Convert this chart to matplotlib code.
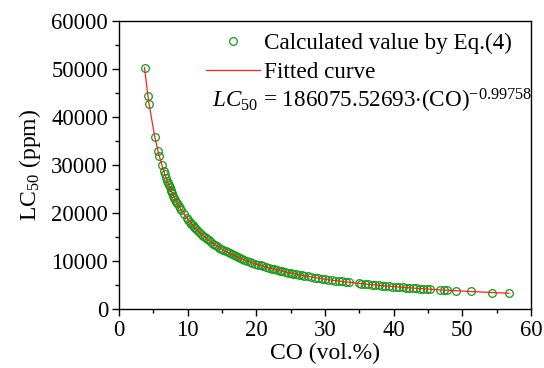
import matplotlib
matplotlib.use("Agg")
import matplotlib.pyplot as plt

plt.rcParams['font.family'] = ['Liberation Serif', 'DejaVu Serif']
plt.rcParams['mathtext.fontset'] = 'custom'
plt.rcParams['mathtext.rm'] = 'Liberation Serif'
plt.rcParams['mathtext.it'] = 'Liberation Serif:italic'

# CO (vol.%) and LC50 (ppm)
co = [3.7, 4.2, 4.35, 5.2, 5.65, 5.85, 6.2, 6.5, 6.65, 6.85, 7.0, 7.1, 7.2, 7.35,
      7.5, 7.6, 7.75, 7.9, 8.05, 8.2, 8.35, 8.5, 8.7, 8.9, 9.05, 9.4, 9.9, 10.1,
      10.3, 10.5, 10.7, 10.9, 11.1, 11.3, 11.6, 11.9, 12.2, 12.5, 12.8, 13.1, 13.4,
      13.7, 14.0, 14.3, 14.6, 14.9, 15.2, 15.5, 15.8, 16.1, 16.4, 16.7, 17.0, 17.3,
      17.6, 17.9, 18.2, 18.6, 19.0, 19.4, 19.8, 20.2, 20.6, 21.0, 21.4, 21.8, 22.2,
      22.6, 23.0, 23.4, 23.8, 24.2, 24.6, 25.0, 25.4, 25.8, 26.2, 26.6, 27.0, 27.5,
      28.0, 28.5, 29.0, 29.5, 30.0, 30.5, 31.0, 31.5, 32.0, 32.5, 33.0, 33.5, 34.9,
      35.3, 35.8, 36.3, 36.8, 37.3, 37.8, 38.3, 38.8, 39.3, 39.8, 40.3, 40.8, 41.3,
      41.8, 42.3, 42.8, 43.3, 43.8, 44.3, 44.8, 45.3, 46.8, 47.3, 47.7, 49.1, 51.2,
      54.3, 56.8]
lc50 = [50300, 44300, 42800, 35800, 33000, 31900, 30100, 28700, 28100, 27300, 26700,
        26300, 25900, 25400, 24900, 24600, 24100, 23600, 23200, 22800, 22400, 22000,
        21500, 21000, 20600, 19900, 18900, 18500, 18200, 17800, 17500, 17100, 16800,
        16500, 16100, 15700, 15300, 15000, 14600, 14300, 14000, 13650, 13350, 13100,
        12800, 12550, 12300, 12050, 11850, 11600, 11400, 11200, 11000, 10800, 10650,
        10450, 10300, 10050, 9850, 9650, 9450, 9270, 9090, 8910, 8740, 8590, 8430,
        8280, 8140, 8000, 7870, 7740, 7610, 7490, 7370, 7260, 7150, 7040, 6940, 6810,
        6690, 6570, 6460, 6350, 6240, 6140, 6040, 5950, 5860, 5770, 5680, 5600, 5370,
        5310, 5240, 5170, 5100, 5030, 4960, 4900, 4830, 4770, 4710, 4660, 4600, 4540,
        4490, 4440, 4380, 4330, 4290, 4240, 4190, 4150, 4010, 3970, 3940, 3830, 3670,
        3460, 3310]

fig = plt.figure(figsize=(5.44, 3.68), dpi=100)
ax = fig.add_axes([0.219, 0.160, 0.757, 0.783])

ax.plot(co, lc50, 'o', mfc='none', mec='#169a16', ms=5.5, mew=0.9,
        label='Calculated value by Eq.(4)', zorder=2)
ax.plot(co, lc50, '-', color='#ff2020', lw=0.9, label='Fitted curve', zorder=3)

ax.set_xlim(0, 60)
ax.set_ylim(0, 60000)
ax.set_xticks(range(0, 61, 10))
ax.set_yticks(range(0, 60001, 10000))
ax.set_xticks(range(5, 60, 10), minor=True)
ax.set_yticks(range(5000, 60000, 10000), minor=True)
ax.tick_params(which='major', direction='out', length=5, width=1, labelsize=16.3, pad=3)
ax.tick_params(which='minor', direction='out', length=3, width=1)
for s in ax.spines.values():
    s.set_linewidth(1)

ax.set_xlabel('CO (vol.%)', fontsize=17, labelpad=1)
ax.set_ylabel('LC$_{50}$ (ppm)', fontsize=17, labelpad=6)

ax.legend(loc='upper left', bbox_to_anchor=(0.189, 0.99), frameon=False,
          fontsize=16.7, handlelength=2.3, handletextpad=0.2, labelspacing=0.32,
          borderaxespad=0)
ax.text(0.226, 0.70, r'$LC_{50}$ = 186075.52693$\cdot$(CO)$^{-0.99758}$',
        transform=ax.transAxes, ha='left', va='baseline', fontsize=16.7)

fig.savefig('out.png', dpi=100)
